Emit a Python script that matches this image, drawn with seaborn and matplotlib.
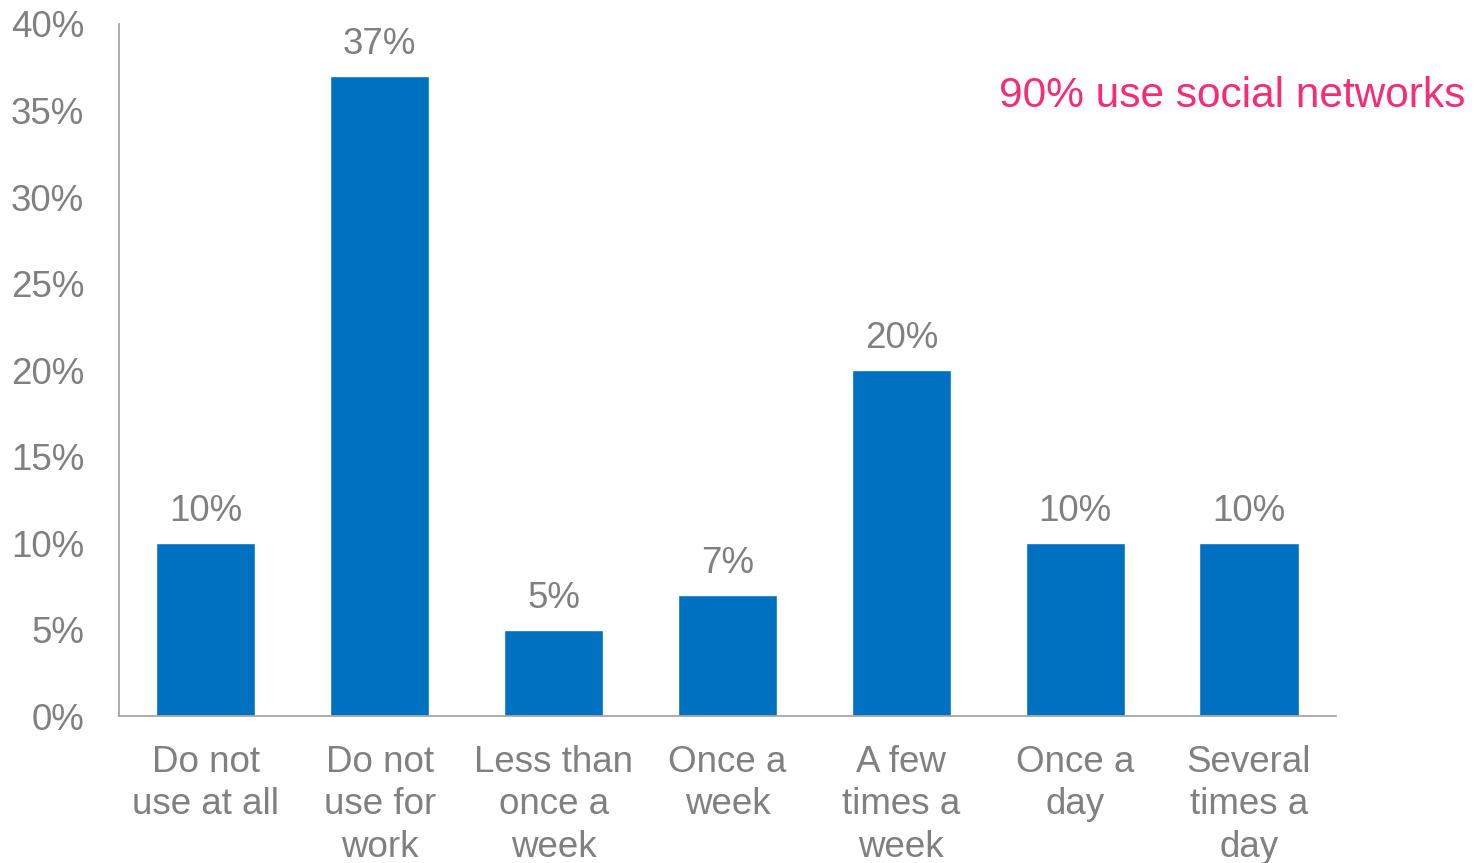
import matplotlib
matplotlib.use("Agg")
import matplotlib.pyplot as plt
import seaborn as sns
import pandas as pd
from matplotlib.ticker import PercentFormatter

# Datos
categorias = ["Do not\nuse at all", "Do not\nuse for\nwork", "Less than\nonce a\nweek",
              "Once a\nweek", "A few\ntimes a\nweek", "Once a\nday", "Several\ntimes a\nday"]
porcentajes = [10, 37, 5, 7, 20, 10, 10]
y_ticks = [0, 5, 10, 15, 20, 25, 30, 35, 40]
nota = "90% use social networks"

df = pd.DataFrame({"categoria": categorias, "valor": porcentajes})

sns.set_style("white")
plt.rcParams['font.family'] = ['Liberation Sans', 'DejaVu Sans']

gris = "#808080"
azul = "#0070C0"
rosa = "#F72C76"

fig = plt.figure(figsize=(14.76, 8.63), dpi=100)
ax = fig.add_axes([0.0806, 0.1703, 0.8245, 0.8019])

sns.barplot(data=df, x="categoria", y="valor", color=azul, saturation=1,
            width=0.57, ax=ax)

ax.set_ylim(0, 40)
ax.set_xlim(-0.5, len(categorias) - 0.5)
ax.set_yticks(y_ticks)
ax.yaxis.set_major_formatter(PercentFormatter(decimals=0))
ax.set_xlabel("")
ax.set_ylabel("")

# Ejes: solo izquierda y abajo, gris claro
for lado in ["top", "right"]:
    ax.spines[lado].set_visible(False)
for lado in ["left", "bottom"]:
    ax.spines[lado].set_color("#A6A6A6")
    ax.spines[lado].set_linewidth(1.3)

ax.tick_params(axis="y", length=0, pad=25, labelsize=26.5, labelcolor=gris)
ax.tick_params(axis="x", length=0, pad=21, labelsize=26.5, labelcolor=gris)
for lbl in ax.get_xticklabels():
    lbl.set_linespacing(1.27)

# Etiquetas de valor encima de cada barra
ax.bar_label(ax.containers[0], labels=[f"{v}%" for v in porcentajes],
             padding=10, fontsize=26.5, color=gris)

fig.text(0.9925, 0.889, nota, ha="right", va="center", fontsize=30.5, color=rosa)

fig.savefig("out.png", dpi=100)
